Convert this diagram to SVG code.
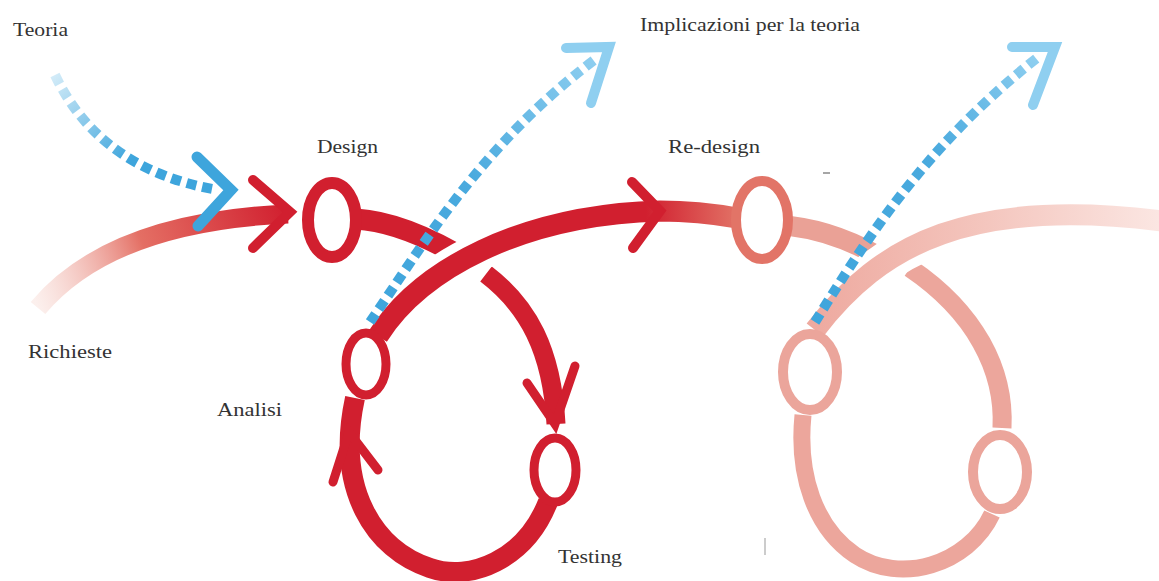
<svg xmlns="http://www.w3.org/2000/svg" width="1159" height="581" viewBox="0 0 1159 581">
<defs>
<linearGradient id="gRich" gradientUnits="userSpaceOnUse" x1="38" y1="308" x2="288" y2="214">
<stop offset="0" stop-color="#f7d9d2" stop-opacity="0.4"/>
<stop offset="0.45" stop-color="#e46f64"/>
<stop offset="1" stop-color="#d11f2f"/>
</linearGradient>
<linearGradient id="gBig" gradientUnits="userSpaceOnUse" x1="378" y1="0" x2="740" y2="0">
<stop offset="0.74" stop-color="#d11f2f"/>
<stop offset="1" stop-color="#e27467"/>
</linearGradient>
<linearGradient id="gPale" gradientUnits="userSpaceOnUse" x1="815" y1="0" x2="1159" y2="0">
<stop offset="0" stop-color="#eeaaa0"/>
<stop offset="0.5" stop-color="#f4c6be"/>
<stop offset="1" stop-color="#fbe6e2"/>
</linearGradient>
<linearGradient id="gTeoria" gradientUnits="userSpaceOnUse" x1="55" y1="75" x2="130" y2="160">
<stop offset="0" stop-color="#d2ebf8"/>
<stop offset="1" stop-color="#3ea5dc"/>
</linearGradient>
<linearGradient id="gMid" gradientUnits="userSpaceOnUse" x1="370" y1="322" x2="600" y2="58">
<stop offset="0" stop-color="#3ea5dc"/>
<stop offset="0.5" stop-color="#4aaade"/>
<stop offset="1" stop-color="#8fcff0"/>
</linearGradient>
<linearGradient id="gRight" gradientUnits="userSpaceOnUse" x1="815" y1="322" x2="1040" y2="58">
<stop offset="0" stop-color="#3ea5dc"/>
<stop offset="0.6" stop-color="#4aaade"/>
<stop offset="1" stop-color="#8fcff0"/>
</linearGradient>
</defs>
<style>
.red{fill:none;stroke:#d11f2f;stroke-linecap:butt}
.chev{fill:none;stroke-linecap:round;stroke-linejoin:miter}
.ring{fill:#ffffff}
.case{fill:none;stroke:#ffffff}
.dash{fill:none;stroke-width:10;stroke-dasharray:10 6}
.lbl{font-family:"Liberation Serif","Times New Roman",serif;font-size:18px;fill:#333333}
</style>
<rect width="1159" height="581" fill="#ffffff"/>

<g id="connectors">
  <!-- Richieste incoming -->
  <path d="M 38 308 Q 110 222 288 214" fill="none" stroke="url(#gRich)" stroke-width="19"/>
  <path class="chev" d="M 253 180 L 290 212 L 253 248" stroke="#d11f2f" stroke-width="10"/>
  <!-- Design tail -->
  <path class="red" d="M 356 219 Q 405 222 470 262" stroke-width="21"/>
  <!-- Design to Testing -->
  <path class="red" d="M 486 274 C 528 306 552 350 556 424" stroke-width="19"/>
  <path class="chev" d="M 527 383 L 555 424 L 575 366" stroke="#d11f2f" stroke-width="9"/>
  <!-- Testing to Analisi -->
  <path class="red" d="M 548 502 C 525 560 470 582 430 568 C 375 550 335 490 355 398" stroke-width="20"/>
  <path class="chev" d="M 333 482 L 349 432 L 378 470" stroke="#d11f2f" stroke-width="9"/>
  <!-- Analisi to Re-design -->
  <path class="case" d="M 378 336 C 420 270 520 215 660 211" stroke-width="38"/>
  <path d="M 378 336 C 420 270 520 215 660 211 C 690 211 715 214 737 218" fill="none" stroke="url(#gBig)" stroke-width="21"/>
  <path class="chev" d="M 632 182 L 660 211 L 633 248" stroke="#d11f2f" stroke-width="10"/>
  <!-- Re-design tail -->
  <path d="M 790 226 Q 840 232 888 262" fill="none" stroke="#eaa196" stroke-width="20"/>
  <!-- right loop start -->
  <path d="M 910 268 C 975 312 1005 370 1002 428" fill="none" stroke="#eca69c" stroke-width="19"/>
  <!-- pale outgoing arc -->
  <path class="case" d="M 815 330 C 880 245 970 195 1170 222" stroke-width="40"/>
  <path d="M 815 330 C 880 245 970 195 1170 222" fill="none" stroke="url(#gPale)" stroke-width="21"/>
  <!-- right loop bottom -->
  <path d="M 992 514 C 968 565 900 585 855 555 C 815 528 797 475 803 415" fill="none" stroke="#eca69c" stroke-width="17"/>
</g>

<g id="node-design">
  <ellipse class="ring" cx="332" cy="220" rx="24" ry="37" stroke="#d11f2f" stroke-width="12"/>
</g>
<g id="node-testing">
  <ellipse class="ring" cx="555" cy="470" rx="21" ry="32" stroke="#d11f2f" stroke-width="9"/>
</g>
<g id="node-analisi">
  <ellipse class="ring" cx="366" cy="364" rx="20" ry="31" stroke="#d11f2f" stroke-width="9"/>
</g>
<g id="node-redesign">
  <ellipse class="ring" cx="762" cy="220" rx="26" ry="39" stroke="#e27467" stroke-width="10"/>
</g>
<g id="node-analisi2">
  <ellipse class="ring" cx="810" cy="372" rx="27" ry="38" stroke="#eba59b" stroke-width="10"/>
</g>
<g id="node-testing2">
  <ellipse class="ring" cx="1000" cy="472" rx="27" ry="37" stroke="#eba59b" stroke-width="10"/>
</g>

<g id="theory-arrows">
  <path class="dash" d="M 55 75 Q 100 170 218 190" stroke="url(#gTeoria)"/>
  <path class="chev" d="M 197 157 L 231 190 L 198 226" stroke="#3ea5dc" stroke-width="11"/>
  <path class="dash" d="M 370 322 C 420 250 480 145 597 58" stroke="url(#gMid)"/>
  <path class="chev" d="M 566 48 L 609 47 L 591 103" stroke="#8fcff0" stroke-width="10"/>
  <path class="dash" d="M 815 322 C 860 250 920 150 1037 58" stroke="url(#gRight)"/>
  <path class="chev" d="M 1012 47 L 1055 47 L 1033 105" stroke="#8fcff0" stroke-width="10"/>
</g>

<g id="marks">
  <path d="M 823 173 L 830 173" stroke="#888888" stroke-width="1.5"/>
  <path d="M 765 538 L 765 555" stroke="#bbbbbb" stroke-width="1.5"/>
</g>

<g id="labels">
  <text class="lbl" x="13" y="36" textLength="55" lengthAdjust="spacingAndGlyphs">Teoria</text>
  <text class="lbl" x="317" y="153" textLength="61" lengthAdjust="spacingAndGlyphs">Design</text>
  <text class="lbl" x="640" y="31" textLength="220" lengthAdjust="spacingAndGlyphs">Implicazioni per la teoria</text>
  <text class="lbl" x="668" y="153" textLength="92" lengthAdjust="spacingAndGlyphs">Re-design</text>
  <text class="lbl" x="28" y="358" textLength="84" lengthAdjust="spacingAndGlyphs">Richieste</text>
  <text class="lbl" x="217" y="416" textLength="65" lengthAdjust="spacingAndGlyphs">Analisi</text>
  <text class="lbl" x="558" y="563" textLength="64" lengthAdjust="spacingAndGlyphs">Testing</text>
</g>
</svg>
